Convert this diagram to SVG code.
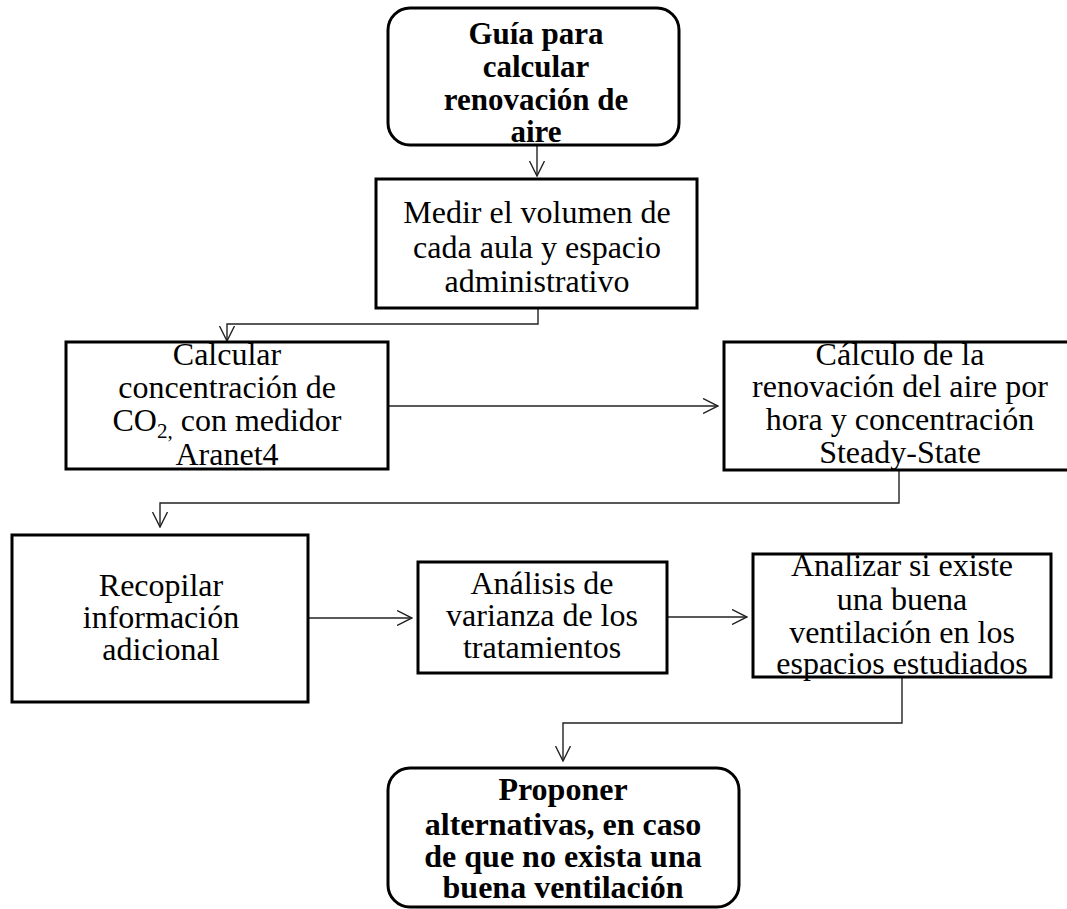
<svg xmlns="http://www.w3.org/2000/svg" width="1067" height="909" viewBox="0 0 1067 909">
<defs>
<style>
.box{fill:#fff;stroke:#000;stroke-width:3}
.t{font-family:"Liberation Serif","Times New Roman",serif;font-size:32px;fill:#000;text-anchor:middle}
.b{font-weight:bold}
.c{fill:none;stroke:#222;stroke-width:1.4}
</style>
<marker id="ah" viewBox="0 0 16 16" refX="15" refY="8" markerWidth="16" markerHeight="16" markerUnits="userSpaceOnUse" orient="auto">
<path d="M0,0.5 L15,8 L0,15.5" fill="none" stroke="#222" stroke-width="1.4"/>
</marker>
</defs>
<rect width="1067" height="909" fill="#fff"/>
<g id="connectors">
<path class="c" d="M537,145 V176" marker-end="url(#ah)"/>
<path class="c" d="M538,308 V324 H227 V341" marker-end="url(#ah)"/>
<path class="c" d="M388,406 H718" marker-end="url(#ah)"/>
<path class="c" d="M899,470 V503 H160 V527" marker-end="url(#ah)"/>
<path class="c" d="M308,618 H412" marker-end="url(#ah)"/>
<path class="c" d="M667,617 H747" marker-end="url(#ah)"/>
<path class="c" d="M902,677 V723 H563 V761" marker-end="url(#ah)"/>
</g>
<g id="n1">
<rect class="box" x="388" y="8" width="291" height="137" rx="22"/>
<text class="t b" style="font-size:31px" x="536"><tspan x="536" y="44">Guía para</tspan><tspan x="536" y="77">calcular</tspan><tspan x="536" y="110">renovación de</tspan><tspan x="536" y="142">aire</tspan></text>
</g>
<g id="n2">
<rect class="box" x="376" y="179" width="321" height="129"/>
<text class="t" x="537"><tspan x="537" y="223">Medir el volumen de</tspan><tspan x="537" y="258">cada aula y espacio</tspan><tspan x="537" y="292">administrativo</tspan></text>
</g>
<g id="n3">
<rect class="box" x="66" y="342" width="322" height="127"/>
<text class="t" x="227"><tspan x="227" y="365">Calcular</tspan><tspan x="227" y="398">concentración de</tspan><tspan x="227" y="431">CO<tspan font-size="21" dy="7">2,</tspan><tspan dy="-7"> con medidor</tspan></tspan><tspan x="227" y="465">Aranet4</tspan></text>
</g>
<g id="n4">
<rect class="box" x="724" y="342" width="346" height="128"/>
<text class="t" x="900"><tspan x="900" y="365">Cálculo de la</tspan><tspan x="900" y="397">renovación del aire por</tspan><tspan x="900" y="430">hora y concentración</tspan><tspan x="900" y="463">Steady-State</tspan></text>
</g>
<g id="n5">
<rect class="box" x="12" y="535" width="296" height="167"/>
<text class="t" x="161"><tspan x="161" y="596">Recopilar</tspan><tspan x="161" y="628">información</tspan><tspan x="161" y="660">adicional</tspan></text>
</g>
<g id="n6">
<rect class="box" x="418" y="562" width="249" height="111"/>
<text class="t" x="542"><tspan x="542" y="594">Análisis de</tspan><tspan x="542" y="626">varianza de los</tspan><tspan x="542" y="658">tratamientos</tspan></text>
</g>
<g id="n7">
<text class="t" x="902"><tspan x="902" y="576">Analizar si existe</tspan><tspan x="902" y="610">una buena</tspan><tspan x="902" y="643">ventilación en los</tspan><tspan x="902" y="674">espacios estudiados</tspan></text>
<rect x="753" y="554" width="298" height="123" fill="none" stroke="#000" stroke-width="3"/>
</g>
<g id="n8">
<rect class="box" x="388" y="768" width="351" height="139" rx="22"/>
<text class="t b" x="563"><tspan x="563" y="800">Proponer</tspan><tspan x="563" y="835">alternativas, en caso</tspan><tspan x="563" y="867">de que no exista una</tspan><tspan x="563" y="898">buena ventilación</tspan></text>
</g>
</svg>
